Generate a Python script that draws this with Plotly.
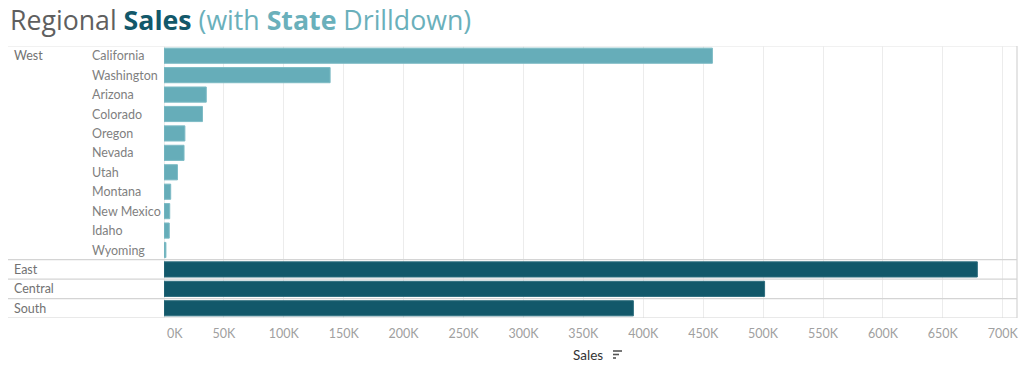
import plotly.graph_objects as go

states = ["California", "Washington", "Arizona", "Colorado", "Oregon", "Nevada",
          "Utah", "Montana", "New Mexico", "Idaho", "Wyoming"]
state_sales = [457688, 138641, 35282, 32108, 17431, 16729, 11220, 5589, 4784, 4382, 1603]
regions = ["East", "Central", "South"]
region_sales = [678781, 501240, 391722]
tick_vals = [0, 50000, 100000, 150000, 200000, 250000, 300000, 350000,
             400000, 450000, 500000, 550000, 600000, 650000, 700000]
tick_text = ["0K", "50K", "100K", "150K", "200K", "250K", "300K", "350K",
             "400K", "450K", "500K", "550K", "600K", "650K", "700K"]

rows = states + regions
W, H = 1024, 371
L, R, T, B = 164, 7, 46, 53
pw = W - L - R
ph = H - T - B
FONT = "Lato"
GRID = "#ececec"
LINE = "#d4d4d4"
TICKC = "#a0a0a0"


def py(ypix):
    """pixel y (from top) -> paper y"""
    return (H - B - ypix) / ph


fig = go.Figure()
fig.add_trace(go.Bar(y=states, x=state_sales, orientation="h",
                     marker=dict(color="#66adb9", line=dict(color="#7dbbc5", width=1)),
                     hoverinfo="x+y"))
fig.add_trace(go.Bar(y=regions, x=region_sales, orientation="h",
                     marker=dict(color="#12586a", line=dict(color="#2d6d7d", width=1)),
                     hoverinfo="x+y"))

ann = []
for s in states:
    ann.append(dict(x=(90 - L) / pw, xref="paper", y=s, yref="y", text=s,
                    showarrow=False, xanchor="left", yanchor="middle",
                    font=dict(family=FONT, size=12.5, color="#7f7f7f")))
ann.append(dict(x=(12 - L) / pw, xref="paper", y=states[0], yref="y", text="West",
                showarrow=False, xanchor="left", yanchor="middle",
                font=dict(family=FONT, size=12.5, color="#727272")))
for r in regions:
    ann.append(dict(x=(12 - L) / pw, xref="paper", y=r, yref="y", text=r,
                    showarrow=False, xanchor="left", yanchor="middle",
                    font=dict(family=FONT, size=12.5, color="#727272")))
ann.append(dict(x=(605 - L) / pw, xref="paper", y=py(355), yref="paper",
                text="Sales", showarrow=False, xanchor="right", yanchor="middle",
                font=dict(family=FONT, size=13.5, color="#333333")))
# first tick label is nudged right of the zero line, as in the reference
ann.append(dict(x=tick_vals[0], xref="x", y=py(333), yref="paper",
                text=tick_text[0], showarrow=False, xanchor="left", yanchor="middle",
                xshift=1, font=dict(family=FONT, size=12.5, color=TICKC)))
tick_text_axis = [""] + tick_text[1:]

shapes = []
n = len(rows)
x0p = (8 - L) / pw
shapes.append(dict(type="line", xref="paper", yref="y", x0=x0p, x1=1, y0=-0.5, y1=-0.5,
                   line=dict(color=GRID, width=1.5)))
for yb in [10.5, 11.5, 12.5, 13.5]:
    shapes.append(dict(type="line", xref="paper", yref="y", x0=x0p, x1=1, y0=yb, y1=yb,
                       line=dict(color=LINE, width=1.2)))
shapes.append(dict(type="line", xref="paper", yref="paper", x0=1, x1=1, y0=0, y1=1,
                   line=dict(color=LINE, width=1.2)))
for ln, yy in [(9, 351), (6, 354.5), (3, 358)]:
    shapes.append(dict(type="line", xref="paper", yref="paper",
                       x0=(613 - L) / pw, x1=(613 + ln - L) / pw,
                       y0=py(yy), y1=py(yy),
                       line=dict(color="#555555", width=1.6)))

fig.update_layout(
    width=W, height=H,
    margin=dict(l=L, r=R, t=T, b=B),
    paper_bgcolor="white", plot_bgcolor="white",
    showlegend=False, bargap=0.22,
    title=dict(
        text="<span style='color:#5f5f5f'>Regional </span>"
             "<span style='color:#12586a'><b>Sales</b></span>"
             "<span style='color:#6ab0bb'> (with <b>State</b> Drilldown)</span>",
        x=10 / W, xref="container", xanchor="left",
        y=1 - 20.5 / H, yref="container", yanchor="middle",
        font=dict(family="Open Sans", size=26.7)),
    xaxis=dict(range=[0, 711900], tickvals=tick_vals, ticktext=tick_text_axis,
               showgrid=True, gridcolor=GRID, gridwidth=1, zeroline=True,
               zerolinecolor=GRID, zerolinewidth=1, showline=False,
               tickfont=dict(family=FONT, size=12.5, color=TICKC),
               ticks="", ticklabelstandoff=6, fixedrange=True),
    yaxis=dict(categoryorder="array", categoryarray=rows, autorange=False,
               range=[n - 0.5, -0.5], showticklabels=False, showgrid=False,
               zeroline=False, fixedrange=True),
    annotations=ann, shapes=shapes,
)

fig.write_html("out.html", config={"displayModeBar": False},
               post_script="document.body.style.margin='0';")
